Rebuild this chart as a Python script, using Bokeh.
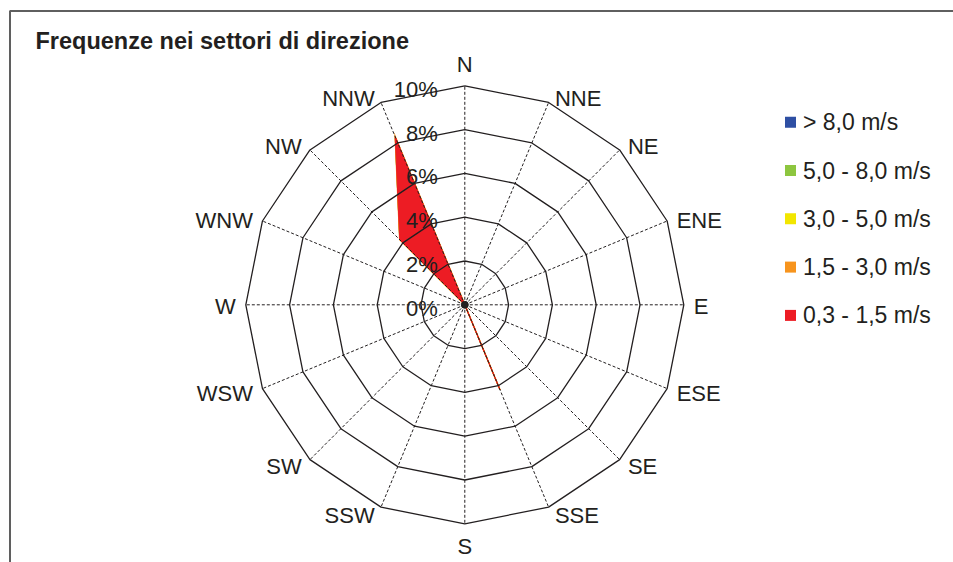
import math
from bokeh.plotting import figure
from bokeh.models import Range1d
from bokeh.core.properties import value
from bokeh.embed import file_html
from bokeh.resources import INLINE

# ---------------- data ----------------
directions = ["N", "NNE", "NE", "ENE", "E", "ESE", "SE", "SSE",
              "S", "SSW", "SW", "WSW", "W", "WNW", "NW", "NNW"]
ring_ticks = [0, 2, 4, 6, 8, 10]
ring_labels = ["0%", "2%", "4%", "6%", "8%", "10%"]
classes = ["> 8,0 m/s", "5,0 - 8,0 m/s", "3,0 - 5,0 m/s", "1,5 - 3,0 m/s", "0,3 - 1,5 m/s"]
class_colors = ["#2E4FA3", "#8DC63F", "#F2E600", "#F7941D", "#ED1C24"]
# frequency (%) per direction, per speed class
freq_gt8 = [0] * 16
freq_5_8 = [0] * 16
freq_3_5 = [0] * 16
freq_15_3 = [0] * 16
freq_03_15 = [0, 0, 0, 0, 0, 0, 0, 4.2, 0, 0, 0, 0, 0, 0, 4.2, 8.3]
series = [freq_gt8, freq_5_8, freq_3_5, freq_15_3, freq_03_15]
title_text = "Frequenze nei settori di direzione"

# ---------------- layout ----------------
W, H = 953, 562
CX, CY = 464.3, 304.3     # centre of rose in canvas pixels
S = 21.9                  # pixels per 1 %
x0 = -CX / S
x1 = (W - CX) / S
y1 = CY / S
y0 = -(H - CY) / S

def px(x):  # canvas px -> data x
    return x0 + x / S

def py(y):  # canvas px (from top) -> data y
    return y1 - y / S

INK = "#231F20"
FONT = "Liberation Sans"

p = figure(width=W, height=H, x_range=Range1d(x0, x1), y_range=Range1d(y0, y1),
           x_axis_type=None, y_axis_type=None, toolbar_location=None,
           output_backend="svg", min_border=0, outline_line_color=None,
           background_fill_color="white", border_fill_color="white")
p.grid.visible = False

# frame (only top and left edges are visible in the window)
p.line([px(9.5), px(9.5), px(W + 5)], [py(H + 5), py(10.5), py(10.5)],
       line_color="#5F5F5F", line_width=2)

n = len(directions)
ang = [i * 2 * math.pi / n for i in range(n)]
rmax = ring_ticks[-1]

# data polygons (cumulative from top class, drawn so lowest class is on top)
for k in range(len(series)):
    cum = [sum(series[j][i] for j in range(k, len(series))) for i in range(n)]
    xs = [cum[i] * math.sin(ang[i]) for i in range(n)]
    ys = [cum[i] * math.cos(ang[i]) for i in range(n)]
    lw = 1.6 if k == 3 else 1.0
    p.patch(xs, ys, fill_color=class_colors[k], line_color=class_colors[k],
            line_width=lw, line_join="miter")

# spokes
for i in range(n):
    p.line([0, rmax * math.sin(ang[i])], [0, rmax * math.cos(ang[i])],
           line_color=INK, line_width=1, line_dash="3 2")

# rings
for r in ring_ticks[1:]:
    xs = [r * math.sin(a) for a in ang] + [0]
    ys = [r * math.cos(a) for a in ang] + [r]
    p.line(xs, ys, line_color=INK, line_width=1.3)

p.scatter([0], [0], size=7, color=INK)

# ring tick labels
p.text(x=[px(CX - 27)] * len(ring_ticks), y=[t - 3.5 / S for t in ring_ticks],
       text=ring_labels, text_align="right", text_baseline="middle",
       text_font=value(FONT), text_font_size="22px", text_color=INK)

# direction labels
groups = {"left": ([], [], []), "right": ([], [], []), "center": ([], [], [])}
for i, d in enumerate(directions):
    sa, ca = math.sin(ang[i]), math.cos(ang[i])
    vx, vy = rmax * sa, rmax * ca
    if abs(sa) < 0.1:
        align = "center"
        dx, dy = 0, (21 if ca > 0 else -23)
    else:
        align = "left" if sa > 0 else "right"
        dx = (4 + 6 * abs(sa)) * (1 if sa > 0 else -1)
        dy = 7 * ca - 2
    g = groups[align]
    g[0].append(vx + dx / S)
    g[1].append(vy + dy / S)
    g[2].append(d)
for align, (gx, gy, gt) in groups.items():
    p.text(x=gx, y=gy, text=gt, text_align=align, text_baseline="middle",
           text_font=value(FONT), text_font_size="22px", text_color=INK)

# title
p.text(x=[px(35)], y=[py(40)], text=[title_text], text_align="left",
       text_baseline="middle", text_font=value(FONT), text_font_size="23.5px",
       text_font_style="bold", text_color=INK)

# legend
leg_y = [121.7 + 48.3 * i for i in range(len(classes))]
p.scatter([px(790)] * len(classes), [py(y) for y in leg_y], marker="square",
          size=11, fill_color=class_colors, line_color=None)
p.text(x=[px(802.5)] * len(classes), y=[py(y) for y in leg_y], text=classes,
       text_align="left", text_baseline="middle", text_font=value(FONT),
       text_font_size="23px", text_color=INK)

open("out.html", "w").write(file_html(p, INLINE))
